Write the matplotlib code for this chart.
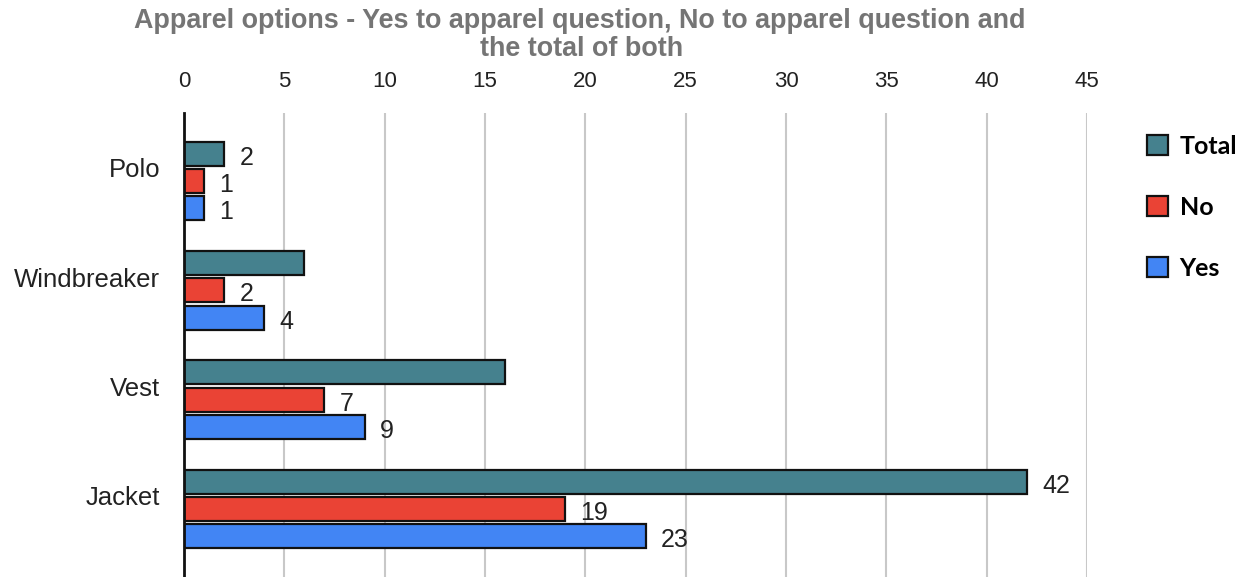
import matplotlib
matplotlib.use("Agg")
import matplotlib.pyplot as plt
from matplotlib.patches import Patch
import numpy as np

# ---- data ----
categories = ["Polo", "Windbreaker", "Vest", "Jacket"]
total = [2, 6, 16, 42]
no = [1, 2, 7, 19]
yes = [1, 4, 9, 23]
# value labels shown in the reference (None = not shown)
total_labels = [2, None, None, 42]
no_labels = [1, 2, 7, 19]
yes_labels = [1, 4, 9, 23]
xticks = [0, 5, 10, 15, 20, 25, 30, 35, 40, 45]
series_names = ["Total", "No", "Yes"]
colors = ["#45818e", "#ea4335", "#4285f4"]

W, H = 1241, 577
fig = plt.figure(figsize=(W / 100, H / 100), dpi=100)
ax_left, ax_right, ax_top = 184, 1087, 113
ax = fig.add_axes([ax_left / W, 0, (ax_right - ax_left) / W, (H - ax_top) / H])

pitch_px = 109.3
y = np.arange(len(categories))
off = 0.25
bh = 0.22

series = [total, no, yes]
labels = [total_labels, no_labels, yes_labels]
for k, (vals, labs, c) in enumerate(zip(series, labels, colors)):
    pos = y + (k - 1) * off
    ax.barh(pos, vals, height=bh, color=c, edgecolor="#111111", linewidth=1.6, zorder=3)
    for p, v, l in zip(pos, vals, labs):
        if l is not None:
            ax.annotate(str(l), xy=(v, p), xytext=(11, -3), textcoords="offset points",
                        ha="left", va="center", fontsize=18, color="#222222",
                        family="Liberation Sans")

top_px = 181 - ax_top
ax.set_ylim((H - 181) / pitch_px, -top_px / pitch_px)
ax.set_xlim(0, 45)
ax.xaxis.tick_top()
ax.set_xticks(xticks)
ax.set_xticklabels([str(t) for t in xticks], fontsize=16, color="#222222",
                   family="Liberation Sans")
ax.tick_params(axis="x", length=0, pad=15)
ax.set_yticks(y - 0.12)
ax.set_yticklabels(categories, fontsize=18.5, color="#222222", family="Liberation Sans")
ax.tick_params(axis="y", length=0, pad=17)
ax.grid(axis="x", color="#c8c8c8", linewidth=1.5, zorder=0)
for s in ["top", "right", "bottom"]:
    ax.spines[s].set_visible(False)
ax.spines["left"].set_linewidth(2)
ax.spines["left"].set_color("#111111")
ax.spines["left"].set_zorder(4)

fig.text(580 / W, 1 - 21 / H, "Apparel options - Yes to apparel question, No to apparel question and",
         ha="center", va="center", fontsize=19.4, fontweight="bold", color="#757575",
         family="Liberation Sans")
fig.text(582 / W, 1 - 49 / H, "the total of both",
         ha="center", va="center", fontsize=19.4, fontweight="bold", color="#757575",
         family="Liberation Sans")

handles = [Patch(facecolor=c, edgecolor="#111111", linewidth=1.6) for c in colors]
fig.legend(handles, series_names, loc="upper left",
           bbox_to_anchor=(1147 / W, 1 - 135 / H), frameon=False,
           borderpad=0, borderaxespad=0, handlelength=0.85, handleheight=0.85,
           handletextpad=0.45, labelspacing=1.52,
           prop={"family": "Lato", "weight": "bold", "size": 18})

fig.savefig("out.png", dpi=100)
